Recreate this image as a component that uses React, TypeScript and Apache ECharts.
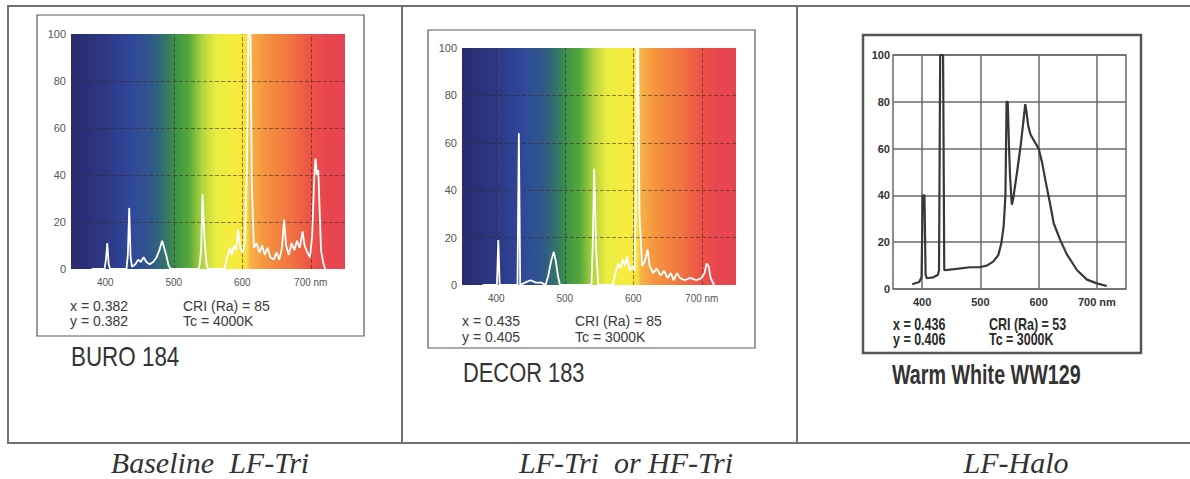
import React, { useEffect, useRef } from "react";
import * as echarts from "echarts";

// ---- data ----
const wavelengthGrid = [400, 500, 600, 700];
const intensityMin = 0;
const intensityMax = 100;
const intensityStep = 20;
const wavelengthMin = 350;
const wavelengthMax = 750;

const buro184Spectrum: [number, number][] = [
  [380, 0], [399, 0], [401, 4], [403, 11], [405, 2], [407, 0], [431, 0], [433, 6], [435, 26], [437, 5],
  [439, 1], [444, 2], [448, 4], [452, 3], [456, 5], [460, 3], [465, 2], [470, 3], [475, 5], [479, 8],
  [483, 12], [486, 9], [489, 6], [492, 2], [495, 0], [537, 0], [540, 8], [542, 32], [545, 12], [548, 2],
  [550, 0], [574, 0], [578, 5], [582, 9], [585, 6], [588, 10], [591, 8], [594, 17], [597, 9], [601, 7],
  [604, 12], [607, 45], [609, 100], [612, 100], [614, 35], [617, 9], [621, 11], [625, 7], [629, 10],
  [633, 6], [637, 9], [641, 5], [646, 4], [650, 7], [654, 4], [658, 9], [661, 21], [664, 10], [668, 6],
  [672, 11], [676, 8], [680, 12], [684, 9], [688, 16], [691, 10], [695, 7], [699, 5], [702, 14], [705, 38],
  [707, 47], [709, 40], [711, 42], [713, 25], [715, 8], [718, 3], [721, 0],
];

const decor183Spectrum: [number, number][] = [
  [380, 0], [401, 0], [403, 19], [405, 0], [431, 0], [433, 64], [435, 0], [442, 1], [450, 2], [458, 1],
  [466, 1], [472, 0], [476, 4], [480, 10], [484, 14], [487, 10], [490, 4], [493, 0], [539, 0], [541, 18],
  [543, 49], [546, 14], [549, 0], [570, 0], [574, 5], [578, 9], [581, 7], [585, 11], [588, 8], [591, 12],
  [595, 6], [599, 8], [602, 6], [604, 40], [605, 100], [607, 100], [609, 30], [613, 8], [617, 10], [621, 15],
  [624, 8], [629, 5], [634, 7], [640, 4], [645, 6], [650, 3], [655, 5], [659, 2], [664, 5], [668, 3],
  [675, 2], [683, 3], [692, 2], [700, 3], [704, 5], [707, 9], [710, 8], [713, 3], [718, 0],
];

const ww129Spectrum: [number, number][] = [
  [383, 2], [395, 3], [399, 5], [401, 40], [404, 40], [406, 6], [408, 4.6], [419, 5], [427, 6], [429, 8],
  [431, 100], [436, 100], [438, 8], [459, 8.6], [482, 9.3], [498, 9.3], [511, 10], [522, 11.7], [531, 14.6],
  [536, 19.6], [540, 27], [543, 40], [544, 60], [545, 80], [547, 80], [549, 62], [551, 48], [554, 36],
  [556, 38], [563, 50], [569, 61], [574, 72], [577, 79], [579, 76], [582, 70], [586, 66], [593, 63],
  [600, 60], [606, 54], [612, 46], [620, 36], [626, 28], [637, 21], [648, 15], [666, 8], [683, 4],
  [700, 2.4], [717, 1.3],
];

const lampNames = ["BURO 184", "DECOR 183", "Warm White WW129"];
const chromaX = ["0.382", "0.435", "0.436"];
const chromaY = ["0.382", "0.405", "0.406"];
const criValues = [85, 85, 53];
const colourTemps = ["4000K", "3000K", "3000K"];
const captions = ["Baseline  LF-Tri", "LF-Tri  or HF-Tri", "LF-Halo"];

// ---- styling ----
const rainbow = {
  type: "linear",
  x: 0, y: 0, x2: 1, y2: 0,
  colorStops: [
    { offset: 0.0, color: "#2a2a6e" },
    { offset: 0.12, color: "#2c3884" },
    { offset: 0.22, color: "#30479a" },
    { offset: 0.3, color: "#2f5a88" },
    { offset: 0.35, color: "#357766" },
    { offset: 0.38, color: "#3d9246" },
    { offset: 0.43, color: "#55a83c" },
    { offset: 0.48, color: "#b2d63c" },
    { offset: 0.53, color: "#eced42" },
    { offset: 0.6, color: "#f7ec3e" },
    { offset: 0.64, color: "#f6e23e" },
    { offset: 0.655, color: "#f7b046" },
    { offset: 0.7, color: "#f5963f" },
    { offset: 0.8, color: "#f17441" },
    { offset: 0.87, color: "#ec5446" },
    { offset: 0.93, color: "#e8464f" },
    { offset: 1.0, color: "#e6444f" },
  ],
};

const grids = [
  { left: 71, top: 34, width: 274, height: 235 },
  { left: 462, top: 48, width: 274, height: 237 },
  { left: 893, top: 55, width: 233, height: 234 },
];

const sansFont = '"Liberation Sans", Arial, Helvetica, sans-serif';
const narrowFont = '"Liberation Sans Narrow", "Liberation Sans", Arial, sans-serif';
const serifFont = '"Liberation Serif", "Times New Roman", serif';

function txt(x: number, y: number, text: string, font: string, fill = "#333", scaleX = 1, align = "left") {
  return {
    type: "text",
    x,
    y,
    scaleX,
    silent: true,
    style: {
      text,
      font,
      fill,
      textAlign: align,
      align,
      textVerticalAlign: "middle",
      verticalAlign: "middle",
    },
  };
}

function hline(x1: number, x2: number, y: number) {
  return { type: "line", silent: true, shape: { x1, y1: y, x2, y2: y }, style: { stroke: "#707070", lineWidth: 2 } };
}
function vline(x: number, y1: number, y2: number) {
  return { type: "line", silent: true, shape: { x1: x, y1, x2: x, y2 }, style: { stroke: "#707070", lineWidth: 2 } };
}
function box(x: number, y: number, w: number, h: number, stroke: string, lw: number) {
  return {
    type: "rect",
    silent: true,
    shape: { x, y, width: w, height: h },
    style: { fill: "none", stroke, lineWidth: lw },
  };
}

const smallFont = `14px ${sansFont}`;
const smallBold = `bold 16px ${narrowFont}`;
const nameFont = `27px ${sansFont}`;
const nameBold = `bold 27px ${narrowFont}`;
const captionFont = `italic 30px ${serifFont}`;

const textPos = [
  { x: 70, cri: 183, y1: 306, y2: 321, nameX: 71, nameY: 357, font: smallFont, sx: 1, nameFont, nsx: 0.83, fill: "#3a3a3a" },
  { x: 462, cri: 575, y1: 321, y2: 337, nameX: 463, nameY: 373, font: smallFont, sx: 1, nameFont, nsx: 0.81, fill: "#3a3a3a" },
  { x: 893, cri: 989, y1: 324, y2: 339, nameX: 892, nameY: 375, font: smallBold, sx: 0.78, nameFont: nameBold, nsx: 0.73, fill: "#2a2a2a" },
];
const captionX = [210, 626, 1016];

function buildOption() {
  const spectra = [buro184Spectrum, decor183Spectrum, ww129Spectrum];
  const isRainbow = [true, true, false];

  const graphic: any[] = [
    hline(7, 1190, 6),
    hline(7, 1190, 443),
    vline(8, 6, 443),
    vline(402, 6, 443),
    vline(797, 6, 443),
    box(37, 15, 327, 321, "#5a5a5a", 1.2),
    box(428, 30, 327, 318, "#5a5a5a", 1.2),
    box(863, 35, 278, 318, "#555555", 2.5),
  ];
  textPos.forEach((p, i) => {
    graphic.push(txt(p.x, p.y1, `x = ${chromaX[i]}`, p.font, p.fill, p.sx));
    graphic.push(txt(p.x, p.y2, `y = ${chromaY[i]}`, p.font, p.fill, p.sx));
    graphic.push(txt(p.cri, p.y1, `CRI (Ra) = ${criValues[i]}`, p.font, p.fill, p.sx));
    graphic.push(txt(p.cri, p.y2, `Tc = ${colourTemps[i]}`, p.font, p.fill, p.sx));
    graphic.push(txt(p.nameX, p.nameY, lampNames[i], p.nameFont, "#333", p.nsx));
    graphic.push(txt(captionX[i], 462, captions[i], captionFont, "#333", 1, "center"));
  });

  return {
    animation: false,
    backgroundColor: "#ffffff",
    grid: grids.map((g, i) => ({
      ...g,
      show: true,
      backgroundColor: isRainbow[i] ? rainbow : "#ffffff",
      borderWidth: isRainbow[i] ? 0 : 1.5,
      borderColor: "#6a6a6a",
    })),
    xAxis: grids.map((_, i) => ({
      type: "value",
      gridIndex: i,
      min: wavelengthMin,
      max: wavelengthMax,
      interval: 50,
      axisLine: { show: false },
      axisTick: { show: false },
      splitLine: { show: false },
      axisLabel: {
        margin: isRainbow[i] ? 8 : 7,
        fontSize: isRainbow[i] ? 10 : 11,
        fontWeight: isRainbow[i] ? "normal" : "bold",
        fontFamily: isRainbow[i] ? sansFont : narrowFont,
        color: isRainbow[i] ? "#555" : "#333",
        showMinLabel: true,
        showMaxLabel: true,
        formatter: (v: number) =>
          wavelengthGrid.includes(v) ? (v === 700 ? "700 nm" : String(v)) : "",
      },
    })),
    yAxis: grids.map((_, i) => ({
      type: "value",
      gridIndex: i,
      min: intensityMin,
      max: intensityMax,
      interval: intensityStep,
      axisLine: { show: false },
      axisTick: { show: false },
      axisLabel: {
        margin: isRainbow[i] ? 5 : 3,
        fontSize: 11,
        fontWeight: isRainbow[i] ? "normal" : "bold",
        fontFamily: isRainbow[i] ? sansFont : narrowFont,
        color: isRainbow[i] ? "#555" : "#333",
      },
      splitLine: {
        show: true,
        showMinLine: !isRainbow[i],
        showMaxLine: !isRainbow[i],
        lineStyle: isRainbow[i]
          ? { color: "rgba(60,35,35,0.55)", type: "dashed", width: 1 }
          : { color: "#6a6a6a", type: "solid", width: 1.5 },
      },
    })),
    series: spectra.map((data, i) => ({
      type: "line",
      xAxisIndex: i,
      yAxisIndex: i,
      data,
      showSymbol: false,
      symbol: "none",
      smooth: false,
      clip: true,
      lineStyle: isRainbow[i]
        ? { color: "#ffffff", width: 1.8 }
        : { color: "#383838", width: 2.2 },
      z: 3,
      markLine: {
        silent: true,
        symbol: ["none", "none"],
        label: { show: false },
        lineStyle: isRainbow[i]
          ? { color: "rgba(60,35,35,0.55)", type: "dashed", width: 1 }
          : { color: "#6a6a6a", type: "solid", width: 1.5 },
        data: wavelengthGrid.map((w) => ({ xAxis: w })),
        z: 1,
      },
    })),
    graphic,
  };
}

export default function App() {
  const ref = useRef<HTMLDivElement>(null);
  useEffect(() => {
    if (!ref.current) return;
    const chart = echarts.init(ref.current, undefined, { renderer: "svg" });
    chart.setOption(buildOption() as any);
    return () => chart.dispose();
  }, []);
  return (
    <div
      ref={ref}
      style={{ position: "absolute", left: 0, top: 0, width: 1190, height: 479, background: "#fff" }}
    />
  );
}
